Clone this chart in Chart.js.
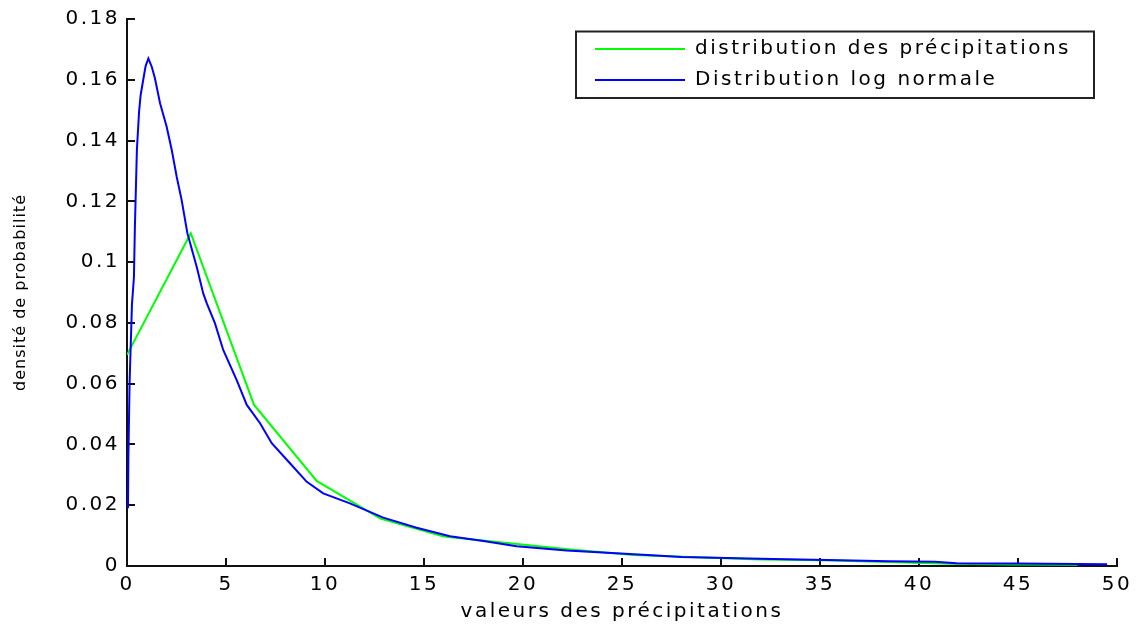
<!DOCTYPE html>
<html><head><meta charset="utf-8">
<script src="https://cdn.jsdelivr.net/npm/chart.js@4.4.1/dist/chart.umd.min.js"></script>
<style>html,body{margin:0;padding:0;background:#fff;} #wrap{width:1137px;height:625px;}</style>
</head><body><div id="wrap"><canvas id="c" width="1137" height="625"></canvas></div>
<script>
const seriesNames = ['distribution des précipitations', 'Distribution log normale'];
const greenX = [0, 3.22, 6.41, 9.58, 12.8, 16.0, 19.2, 22.4, 25.6, 28.8, 32.0, 35.2, 38.4, 41.6, 44.8, 48.0];
const greenY = [0.0695, 0.1095, 0.0531, 0.0280, 0.0156, 0.0097, 0.0076, 0.0054, 0.0036, 0.0029, 0.0021, 0.0019, 0.0013, 0.0007, 0.0005, 0.0004];
const blueX = [0.05, 0.07, 0.13, 0.25, 0.35, 0.40, 0.50, 0.61, 0.69, 0.82, 0.94, 1.08, 1.25, 1.41, 1.67, 2.00, 2.26, 2.51, 2.76, 3.05, 3.52, 3.85, 4.03, 4.44, 4.86, 5.54, 6.05, 6.72, 7.31, 8.23, 9.08, 9.91, 11.26, 12.94, 14.63, 16.31, 18.0, 19.68, 22.2, 24.7, 26.5, 28.0, 32.0, 36.0, 38.5, 40.8, 41.9, 45.0, 49.5];
const blueY = [0.019, 0.036, 0.060, 0.086, 0.095, 0.112, 0.137, 0.1495, 0.155, 0.160, 0.1645, 0.167, 0.1643, 0.1605, 0.1523, 0.1446, 0.1369, 0.1281, 0.1204, 0.1095, 0.0985, 0.0897, 0.0864, 0.0799, 0.0711, 0.0612, 0.053, 0.047, 0.0404, 0.0338, 0.0277, 0.0239, 0.0206, 0.0159, 0.0126, 0.0098, 0.0082, 0.0065, 0.0051, 0.0042, 0.0035, 0.0030, 0.0024, 0.0019, 0.0016, 0.0014, 0.0009, 0.0008, 0.0006];
const xTickLabels = ['0','5','10','15','20','25','30','35','40','45','50'];
const yTickLabels = ['0','0.02','0.04','0.06','0.08','0.1','0.12','0.14','0.16','0.18'];
const xTitle = 'valeurs des précipitations';
const yTitle = 'densité de probabilité';

const FONT = "'DejaVu Sans', sans-serif";
Chart.defaults.font.family = FONT;
Chart.defaults.color = '#000';

const pts = (xs, ys) => xs.map((x, i) => ({x: x, y: ys[i]}));

const tweak = {
  id: 'tweak',
  beforeUpdate(chart) { chart.ctx.letterSpacing = '2.5px'; },
  beforeDraw(chart) {
    chart.ctx.letterSpacing = '2.5px';
    const s = chart.scales.y;
    if (s && !s._wrappedTitle) {
      const orig = s.drawTitle.bind(s);
      s.drawTitle = function () {
        const c = this.ctx; const prev = c.letterSpacing;
        c.letterSpacing = '1px'; orig(); c.letterSpacing = prev;
      };
      s._wrappedTitle = true;
    }
  },
  afterLayout(chart) {
    const lg = chart.legend;
    if (!lg) return;
    lg.left = 584; lg.top = 28; lg.right = 1094; lg.bottom = 110;
  },
  afterDraw(chart) {
    const ctx = chart.ctx;
    ctx.save();
    ctx.strokeStyle = '#222';
    ctx.lineWidth = 2;
    ctx.strokeRect(576, 31.5, 518, 66.5);
    ctx.restore();
  }
};

new Chart(document.getElementById('c'), {
  type: 'scatter',
  data: {
    datasets: [
      { label: seriesNames[0], data: pts(greenX, greenY), showLine: true, borderColor: '#00ff00', backgroundColor: '#00ff00',
        borderWidth: 2, pointRadius: 0, tension: 0, order: 1 },
      { label: seriesNames[1], data: pts(blueX, blueY), showLine: true, borderColor: '#0000ff', backgroundColor: '#0000ff',
        borderWidth: 2, pointRadius: 0, tension: 0, order: 0 }
    ]
  },
  options: {
    responsive: false,
    animation: false,
    devicePixelRatio: 1,
    layout: { padding: { top: 19, right: 20, left: 0, bottom: 0 } },
    plugins: {
      tooltip: { enabled: false },
      legend: {
        position: 'chartArea',
        align: 'start',
        labels: {
          boxWidth: 90, boxHeight: 0, padding: 11, color: '#000',
          font: { size: 20, family: FONT },
          sort: (a, b) => a.datasetIndex - b.datasetIndex
        }
      }
    },
    scales: {
      x: {
        type: 'linear', min: 0, max: 50,
        afterFit(s) { s.height = 59; s.paddingLeft = 0; s.paddingRight = 0; },
        border: { display: true, color: '#111', width: 2 },
        grid: { drawOnChartArea: false, drawTicks: true, tickLength: -8, color: '#111', lineWidth: 2 },
        ticks: { stepSize: 5, padding: 15, maxRotation: 0, autoSkip: false, font: { size: 20 }, color: '#000',
          callback: (v) => xTickLabels[Math.round(v / 5)] },
        title: { display: true, text: xTitle, font: { size: 20 }, color: '#000', padding: { top: 0, bottom: 1 } }
      },
      y: {
        type: 'linear', min: 0, max: 0.18,
        afterFit(s) { s.width = 127; s.paddingTop = 0; s.paddingBottom = 0; },
        border: { display: true, color: '#111', width: 2 },
        grid: { drawOnChartArea: false, drawTicks: true, tickLength: -8, color: '#111', lineWidth: 2 },
        ticks: { stepSize: 0.02, padding: 15, autoSkip: false, font: { size: 20 }, color: '#000',
          callback: (v) => yTickLabels[Math.round(v / 0.02)] },
        title: { display: true, text: yTitle, font: { size: 16 }, color: '#000', padding: { top: 11, bottom: 0 } }
      }
    }
  },
  plugins: [tweak]
});
</script>
</body></html>
